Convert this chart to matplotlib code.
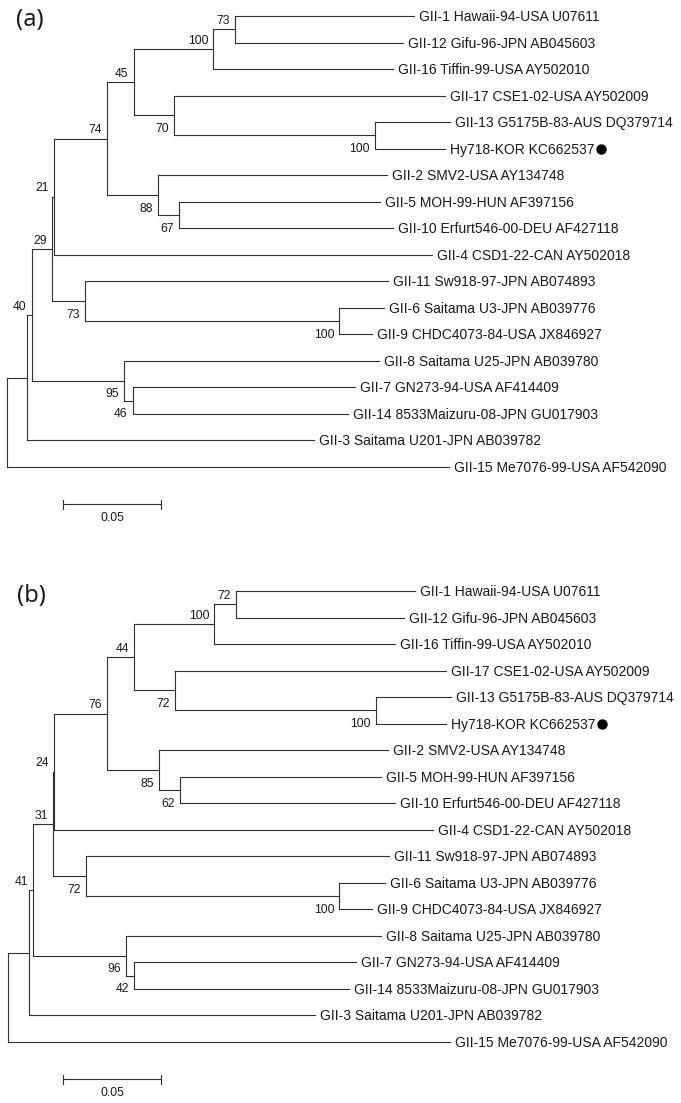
import matplotlib
matplotlib.use('Agg')
import matplotlib.pyplot as plt

# ---------------- data ----------------
leaf_ids = ['GII-1', 'GII-12', 'GII-16', 'GII-17', 'GII-13', 'Hy718', 'GII-2', 'GII-5',
            'GII-10', 'GII-4', 'GII-11', 'GII-6', 'GII-9', 'GII-8', 'GII-7', 'GII-14',
            'GII-3', 'GII-15']
leaf_labels = ['GII-1 Hawaii-94-USA U07611', 'GII-12 Gifu-96-JPN AB045603',
               'GII-16 Tiffin-99-USA AY502010', 'GII-17 CSE1-02-USA AY502009',
               'GII-13 G5175B-83-AUS DQ379714', 'Hy718-KOR KC662537',
               'GII-2 SMV2-USA AY134748', 'GII-5 MOH-99-HUN AF397156',
               'GII-10 Erfurt546-00-DEU AF427118', 'GII-4 CSD1-22-CAN AY502018',
               'GII-11 Sw918-97-JPN AB074893', 'GII-6 Saitama U3-JPN AB039776',
               'GII-9 CHDC4073-84-USA JX846927', 'GII-8 Saitama U25-JPN AB039780',
               'GII-7 GN273-94-USA AF414409', 'GII-14 8533Maizuru-08-JPN GU017903',
               'GII-3 Saitama U201-JPN AB039782', 'GII-15 Me7076-99-USA AF542090']
marked_leaf = 'Hy718'

node_ids = ['root', 'nY', 'n2', 'n3', 'n4', 'n5', 'n6', 'n7', 'n8', 'n9', 'n10',
            'n11', 'n12', 'n13', 'n14', 'n15', 'n16']
node_children = [['nY', 'GII-15'], ['n2', 'GII-3'], ['n3', 'n15'], ['n4', 'n13'],
                 ['n5', 'GII-4'], ['n6', 'n11'], ['n7', 'n9'], ['n8', 'GII-16'],
                 ['GII-1', 'GII-12'], ['GII-17', 'n10'], ['GII-13', 'Hy718'],
                 ['GII-2', 'n12'], ['GII-5', 'GII-10'], ['GII-11', 'n14'],
                 ['GII-6', 'GII-9'], ['GII-8', 'n16'], ['GII-7', 'GII-14']]

# panel (a)
support_a = [None, None, 40, 29, 21, 74, 45, 100, 73, 70, 100, 88, 67, 73, 100, 95, 46]
node_depth_a = [0.0, 0.0104, 0.0126, 0.0228, 0.0240, 0.0509, 0.0646, 0.1053, 0.1165,
                0.0854, 0.1878, 0.0770, 0.0878, 0.0398, 0.1696, 0.0598, 0.0641]
leaf_depth_a = [0.2077, 0.2022, 0.1971, 0.2235, 0.2260, 0.2235, 0.1937, 0.1903, 0.1971,
                0.2167, 0.1945, 0.1925, 0.1861, 0.1900, 0.1776, 0.1741, 0.1566, 0.2257]

# panel (b)
support_b = [None, None, 41, 31, 24, 76, 44, 100, 72, 72, 100, 85, 62, 72, 100, 96, 42]
node_depth_b = [0.0, 0.0109, 0.0126, 0.0228, 0.0236, 0.0507, 0.0644, 0.1053, 0.1163,
                0.0854, 0.1876, 0.0772, 0.0876, 0.0396, 0.1690, 0.0601, 0.0643]
leaf_depth_b = [0.2077, 0.2022, 0.1974, 0.2235, 0.2260, 0.2235, 0.1937, 0.1902, 0.1974,
                0.2170, 0.1945, 0.1923, 0.1859, 0.1902, 0.1774, 0.1740, 0.1566, 0.2255]

scale_length = 0.05
scale_label = '0.05'
panel_letters = ['(a)', '(b)']

# ---------------- drawing ----------------
W, H = 681, 1103
DPI = 100
PX = 72.0 / DPI  # points per pixel
LINE = '#303030'
TXT = '#1a1a1a'
FONT = ['Liberation Sans', 'DejaVu Sans']

fig = plt.figure(figsize=(W / DPI, H / DPI), dpi=DPI)
fig.patch.set_facecolor('white')

SP = 26.53  # pixels per leaf row
PPU = 1960.0  # pixels per substitution unit


def make_axes(top_px, bottom_px, root_px, first_leaf_px):
    ax = fig.add_axes([0, 1 - bottom_px / H, 1, (bottom_px - top_px) / H])
    ax.set_xlim(-root_px / PPU, (W - root_px) / PPU)
    ax.set_ylim((bottom_px - top_px - first_leaf_px) / SP, -first_leaf_px / SP)
    ax.axis('off')
    return ax


def draw_tree(ax, leaf_depth, node_depth, support):
    depth = dict(zip(leaf_ids, leaf_depth))
    depth.update(zip(node_ids, node_depth))
    children = dict(zip(node_ids, node_children))
    ypos = {lid: float(i) for i, lid in enumerate(leaf_ids)}
    parent = {}
    for n, ch in children.items():
        for k, c in enumerate(ch):
            parent[c] = (n, k)

    def gety(n):
        if n not in ypos:
            ys = [gety(c) for c in children[n]]
            ypos[n] = (ys[0] + ys[-1]) / 2.0
        return ypos[n]
    gety('root')

    for n in node_ids:
        ch = children[n]
        x = depth[n]
        ax.plot([x, x], [ypos[ch[0]], ypos[ch[-1]]], color=LINE, lw=0.8,
                solid_capstyle='projecting')
        for c in ch:
            ax.plot([x, depth[c]], [ypos[c], ypos[c]], color=LINE, lw=0.8,
                    solid_capstyle='projecting')

    for n, s in zip(node_ids, support):
        if s is None:
            continue
        _, k = parent[n]
        dy = 5.3 if k == 0 else -16.6
        ax.annotate(str(s), xy=(depth[n], ypos[n]), xytext=(-5 * PX, dy * PX),
                    textcoords='offset points', ha='right', va='baseline',
                    fontsize=8.7, family=FONT, color=TXT)

    texts = {}
    for lid, lab in zip(leaf_ids, leaf_labels):
        t = ax.annotate(lab, xy=(depth[lid], ypos[lid]), xytext=(5 * PX, -5 * PX),
                        textcoords='offset points', ha='left', va='baseline',
                        fontsize=10, family=FONT, color=TXT)
        texts[lid] = t
    return texts, ypos


def draw_scale(ax, x0, yrow):
    ax.plot([x0, x0 + scale_length], [yrow, yrow], color=LINE, lw=0.8)
    tick = 4.5 / SP
    for xx in (x0, x0 + scale_length):
        ax.plot([xx, xx], [yrow - tick, yrow + tick], color=LINE, lw=0.8)
    ax.annotate(scale_label, xy=(x0 + scale_length / 2, yrow), xytext=(0, -16.7 * PX),
                textcoords='offset points', ha='center', va='baseline',
                fontsize=8.7, family=FONT, color=TXT)


ax_a = make_axes(0, 575, 7, 16)
ax_b = make_axes(575, H, 8, 16)

marks = []
for ax, ld, nd, sup, root_px in ((ax_a, leaf_depth_a, node_depth_a, support_a, 7),
                                 (ax_b, leaf_depth_b, node_depth_b, support_b, 8)):
    texts, ypos = draw_tree(ax, ld, nd, sup)
    draw_scale(ax, (62.5 - root_px + 0.5) / PPU, (504.3 - 16) / SP)
    marks.append((ax, texts[marked_leaf], ypos[marked_leaf]))

fig.text(16 / W, 1 - 20 / H, panel_letters[0], ha='left', va='center',
         fontsize=17, family=['Noto Sans', 'DejaVu Sans'], color=TXT)
fig.text(16.5 / W, 1 - 595.5 / H, panel_letters[1], ha='left', va='center',
         fontsize=17, family=['Noto Sans', 'DejaVu Sans'], color=TXT)

# marker dot after the highlighted strain label
fig.canvas.draw()
renderer = fig.canvas.get_renderer()
for ax, t, y in marks:
    bb = t.get_window_extent(renderer)
    xd = ax.transData.inverted().transform((bb.x1 + 6, 0))[0]
    ax.plot([xd], [y], 'o', ms=9 * PX, color='black', mec='black')

fig.savefig('out.png', dpi=DPI, facecolor='white')
